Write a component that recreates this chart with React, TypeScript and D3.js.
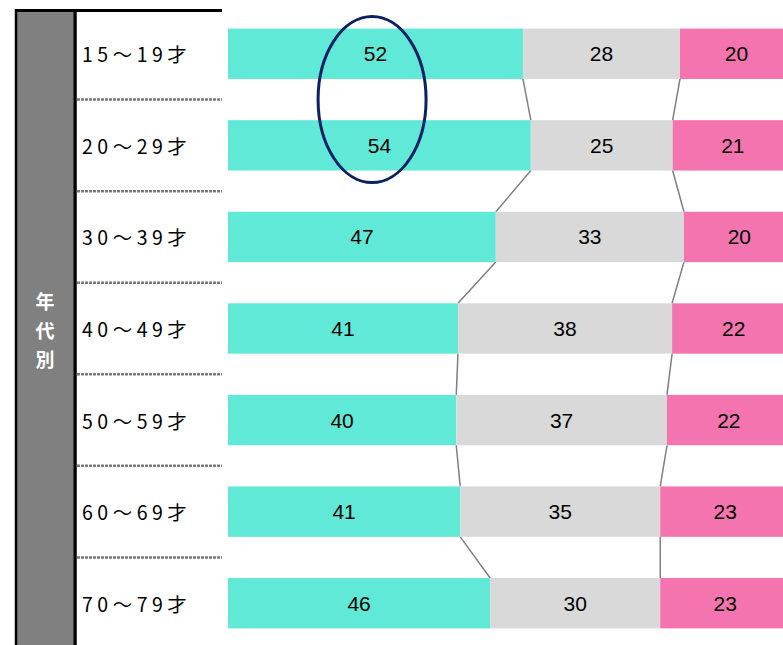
import * as d3 from 'd3'

const ageGroups = ['15～19才', '20～29才', '30～39才', '40～49才', '50～59才', '60～69才', '70～79才']
const seriesA = [52.2, 53.6, 47.4, 40.7, 40.4, 41.1, 46.4]
const seriesB = [27.8, 25.1, 33.3, 37.9, 37.3, 35.4, 30.1]
const seriesC = [20.0, 21.3, 19.6, 21.8, 21.9, 23.0, 23.0]
const groupTitle = ['年', '代', '別']
const colors = ['#61E9D7', '#D9D9D9', '#F374AF']

const W = 783
const H = 645

export default function App(): JSX.Element {
  const x = d3.scaleLinear().domain([0, 100]).range([228, 793])
  const y = d3.scaleBand<string>().domain(ageGroups).range([8, 649]).paddingInner(0.45).paddingOuter(0.225)
  const bw = y.bandwidth()
  const step = y.step()

  const rows = ageGroups.map((g, i) => {
    const vals = [seriesA[i], seriesB[i], seriesC[i]]
    let acc = 0
    const segs = vals.map((v, k) => {
      const s = { x0: acc, x1: acc + v, v, k }
      acc += v
      return s
    })
    return { g, segs, top: y(g) ?? 0 }
  })

  const ellipseCx = x(25.5)
  const ellipseCy = ((y(ageGroups[0]) ?? 0) + (y(ageGroups[1]) ?? 0) + bw) / 2

  return (
    <svg width={W} height={H} style={{ position: 'absolute', left: 0, top: 0, background: '#fff' }}>
      {/* left header column */}
      <rect x={17} y={11} width={56} height={H} fill="#808080" />
      <line x1={16} x2={16} y1={9} y2={H} stroke="#000" strokeWidth={2.5} />
      <line x1={75} x2={75} y1={9} y2={H} stroke="#000" strokeWidth={3.5} />
      <line x1={15} x2={222} y1={10.5} y2={10.5} stroke="#000" strokeWidth={3} />
      {groupTitle.map((c, i) => (
        <text
          key={c}
          x={45}
          y={300 + i * 29}
          textAnchor="middle"
          dominantBaseline="central"
          fontFamily="'Noto Sans CJK JP', sans-serif"
          fontWeight="bold"
          fontSize={19}
          fill="#fff"
        >
          {c}
        </text>
      ))}
      {ageGroups.slice(1).map((g) => (
        <line
          key={`sep-${g}`}
          x1={77}
          x2={222}
          y1={(y(g) ?? 0) - (step - bw) / 2}
          y2={(y(g) ?? 0) - (step - bw) / 2}
          stroke="#7a7a7a"
          strokeWidth={2.5}
          strokeDasharray="3 1"
        />
      ))}
      {rows.map((r) => (
        <text
          key={`lab-${r.g}`}
          x={82}
          y={r.top + bw / 2}
          dominantBaseline="central"
          fontFamily="'Noto Sans CJK JP', sans-serif"
          fontSize={19.5}
          letterSpacing={4.5}
          fill="#000"
        >
          {r.g}
        </text>
      ))}
      {/* connectors */}
      {rows.slice(0, -1).map((r, i) => {
        const next = rows[i + 1]
        return [0, 1].map((k) => (
          <line
            key={`c-${i}-${k}`}
            x1={x(r.segs[k].x1)}
            x2={x(next.segs[k].x1)}
            y1={r.top + bw}
            y2={next.top}
            stroke="#7f7f7f"
            strokeWidth={1.5}
          />
        ))
      })}
      {rows.map((r) => (
        <g key={`bar-${r.g}`}>
          {r.segs.map((s) => (
            <rect key={s.k} x={x(s.x0)} y={r.top} width={x(s.x1) - x(s.x0)} height={bw} fill={colors[s.k]} />
          ))}
          {r.segs.map((s) => (
            <text
              key={`t-${s.k}`}
              x={(x(s.x0) + x(s.x1)) / 2}
              y={r.top + bw / 2}
              textAnchor="middle"
              dominantBaseline="central"
              fontFamily="'Liberation Sans', Arial, sans-serif"
              fontSize={21}
              fill="#000"
            >
              {Math.round(s.v)}
            </text>
          ))}
        </g>
      ))}
      <ellipse cx={ellipseCx} cy={ellipseCy} rx={54} ry={83} fill="none" stroke="#0C2164" strokeWidth={3} />
    </svg>
  )
}
